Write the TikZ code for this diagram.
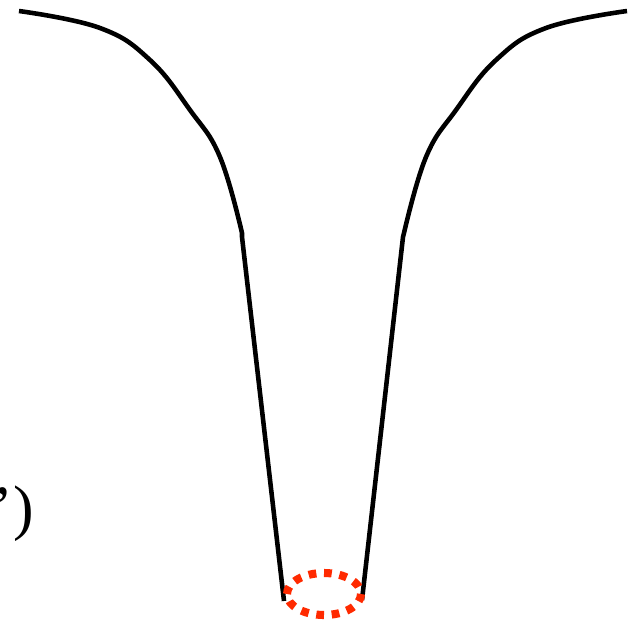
\documentclass[tikz,border=0pt]{standalone}
\usepackage{fontspec}
\setmainfont{Liberation Serif}
\usetikzlibrary{positioning}
\definecolor{funnelred}{HTML}{FF2A00}

\begin{document}
\begin{tikzpicture}[
    x=0.02cm, y=-0.02cm,
    wall/.style={line width=2.6pt, black, line join=round},
    neck/.style={draw=funnelred, line width=4.6pt, dash pattern=on 4.4pt off 4.4pt},
    lbl/.style={font=\fontsize{35}{40}\selectfont, inner sep=0pt}
]
\useasboundingbox (0,0) rectangle (629,623);
% walls of the funnel
\coordinate (lkink) at (242,237);
\coordinate (lbot) at (284,601);
\coordinate (rkink) at (403,237);
\coordinate (rbot) at (362,600);
\draw[wall] plot[smooth, tension=0.7] coordinates {(19,11) (100,28) (150,60) (190,110) (220,157) (242,233)} -- (lkink) -- (lbot);
\draw[wall] plot[smooth, tension=0.7] coordinates {(627,11) (546,28) (496,60) (456,110) (426,157) (404,233)} -- (rkink) -- (rbot);
% opening at the bottom
\coordinate (hole) at (324,594);
\draw[neck] (hole) ellipse [x radius=37, y radius=21];
% cut-off label
\node[lbl, anchor=base east] (tag) at (34,528) {e’)};
\end{tikzpicture}
\end{document}
